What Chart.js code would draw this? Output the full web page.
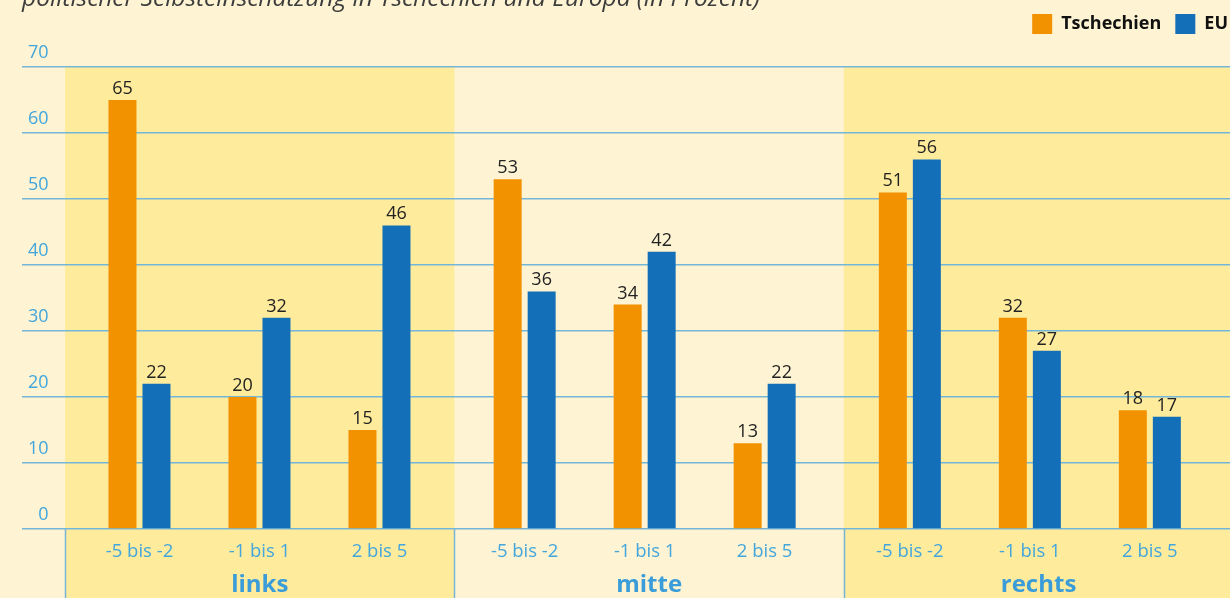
<!DOCTYPE html>
<html lang="de">
<head>
<meta charset="utf-8">
<title>Politische Selbsteinschätzung</title>
<script src="https://cdn.jsdelivr.net/npm/chart.js@4.4.1/dist/chart.umd.min.js"></script>
<style>
  html, body { margin: 0; padding: 0; background: #fef3d2; }
  #wrap { position: relative; width: 1230px; height: 598px; overflow: hidden; }
  #sub { position: absolute; left: 22px; top: -15px; font: italic 24.5px/24.5px 'Open Sans', sans-serif; color: #3d3d3d; white-space: nowrap; z-index: 2; }
  canvas { position: absolute; left: 0; top: 0; }
</style>
</head>
<body>
<div id="wrap">
  <div id="sub">politischer Selbsteinschätzung in Tschechien und Europa (in Prozent)</div>
  <canvas id="chart" width="1242" height="598"></canvas>
</div>
<script>
const groups = ['links', 'mitte', 'rechts'];
const categories = ['-5 bis -2', '-1 bis 1', '2 bis 5', '-5 bis -2', '-1 bis 1', '2 bis 5', '-5 bis -2', '-1 bis 1', '2 bis 5'];
const tschechien = [65, 20, 15, 53, 34, 13, 51, 32, 18];
const eu = [22, 32, 46, 36, 42, 22, 56, 27, 17];
const yTicks = [0, 10, 20, 30, 40, 50, 60, 70];

const CREAM = '#fef3d2';
const YELLOW = '#ffeb9c';
const LINE = '#74b6d8';
const TEXTBLUE = '#43a6dc';

// slot layout on the linear x scale: 1 unit between categories, a bit more between groups
const GROUP_STEP = 3.21;
const BAND_START = -0.62;
const BAND_WIDTH = 3.245;
function slot(k) { return Math.floor(k / 3) * GROUP_STEP + k % 3; }
const xMin = -0.979, xMax = 9.188;

const bandPlugin = {
    id: 'bands',
    beforeDraw(chart) {
        const ctx = chart.ctx;
        const x = chart.scales.x;
        const area = chart.chartArea;
        ctx.save();
        ctx.fillStyle = CREAM;
        ctx.fillRect(0, 0, chart.width, chart.height);
        for (let g = 0; g < groups.length; g++) {
            const l = x.getPixelForValue(BAND_START + g * BAND_WIDTH);
            const r = x.getPixelForValue(BAND_START + (g + 1) * BAND_WIDTH);
            if (g !== 1) {
                ctx.fillStyle = YELLOW;
                ctx.fillRect(l, area.top, r - l, chart.height - area.top);
            }
        }
        // separators below the axis
        ctx.strokeStyle = LINE;
        ctx.lineWidth = 1.5;
        for (let g = 0; g <= groups.length; g++) {
            const px = Math.round(x.getPixelForValue(BAND_START + g * BAND_WIDTH)) + 0.5;
            ctx.beginPath();
            ctx.moveTo(px, area.bottom);
            ctx.lineTo(px, chart.height);
            ctx.stroke();
        }
        ctx.restore();
    }
};

const valuePlugin = {
    id: 'values',
    afterDatasetsDraw(chart) {
        const ctx = chart.ctx;
        ctx.save();
        ctx.font = '18px "Open Sans"';
        ctx.fillStyle = '#222';
        ctx.textAlign = 'center';
        ctx.textBaseline = 'alphabetic';
        chart.data.datasets.forEach((ds, di) => {
            chart.getDatasetMeta(di).data.forEach((bar, i) => {
                ctx.fillText(ds.data[i].y, bar.x, bar.y - 6);
            });
        });
        ctx.restore();
    }
};

const legendHeight = {
    id: 'legendHeight',
    beforeInit(chart) {
        const orig = chart.legend.fit;
        chart.legend.fit = function() {
            orig.call(this);
            this.height = 67;
        };
    }
};

new Chart(document.getElementById('chart'), {
    type: 'bar',
    data: {
        datasets: [{
            label: 'Tschechien',
            data: tschechien.map((v, k) => ({ x: slot(k), y: v })),
            backgroundColor: '#f39200',
            borderWidth: 0
        }, {
            label: 'EU',
            data: eu.map((v, k) => ({ x: slot(k), y: v })),
            backgroundColor: '#136fb8',
            borderWidth: 0
        }]
    },
    options: {
        responsive: false,
        animation: false,
        devicePixelRatio: 1,
        categoryPercentage: 0.5667,
        barPercentage: 0.8235,
        layout: { padding: 0 },
        plugins: {
            tooltip: { enabled: false },
            legend: {
                position: 'top',
                align: 'end',
                labels: {
                    boxWidth: 20,
                    boxHeight: 20,
                    padding: 14,
                    color: '#111',
                    font: { family: 'Open Sans', weight: 'bold', size: 18 }
                }
            }
        },
        scales: {
            x: {
                type: 'linear',
                min: xMin,
                max: xMax,
                offset: false,
                weight: 0,
                grid: { display: false, drawTicks: false, offset: false },
                border: { display: false },
                afterBuildTicks(scale) {
                    scale.ticks = categories.map((c, k) => ({ value: slot(k) }));
                },
                afterFit(scale) { scale.height = 31; },
                ticks: {
                    autoSkip: false,
                    maxRotation: 0,
                    padding: 12,
                    color: TEXTBLUE,
                    font: { family: 'Open Sans', size: 18.5 },
                    callback: (value, index) => categories[index]
                }
            },
            x2: {
                type: 'linear',
                position: 'bottom',
                min: xMin,
                max: xMax,
                offset: false,
                weight: 1,
                grid: { display: false, drawTicks: false, offset: false },
                border: { display: false },
                afterBuildTicks(scale) {
                    scale.ticks = groups.map((g, i) => ({ value: BAND_START + (i + 0.5) * BAND_WIDTH }));
                },
                afterFit(scale) { scale.height = 38; },
                ticks: {
                    autoSkip: false,
                    maxRotation: 0,
                    padding: 11,
                    color: '#3a9cd8',
                    font: { family: 'Open Sans', size: 24, weight: 'bold' },
                    callback: (value, index) => groups[index]
                }
            },
            y: {
                min: 0,
                max: 70,
                position: 'left',
                afterBuildTicks(scale) {
                    scale.ticks = yTicks.map(v => ({ value: v }));
                },
                afterFit(scale) { scale.width = 22; },
                grid: { color: LINE, lineWidth: 1.5, drawTicks: false },
                border: { display: false },
                ticks: {
                    mirror: true,
                    crossAlign: 'far',
                    padding: 6,
                    labelOffset: -14,
                    color: TEXTBLUE,
                    font: { family: 'Open Sans', size: 18 }
                }
            }
        }
    },
    plugins: [bandPlugin, valuePlugin, legendHeight]
});
</script>
</body>
</html>
